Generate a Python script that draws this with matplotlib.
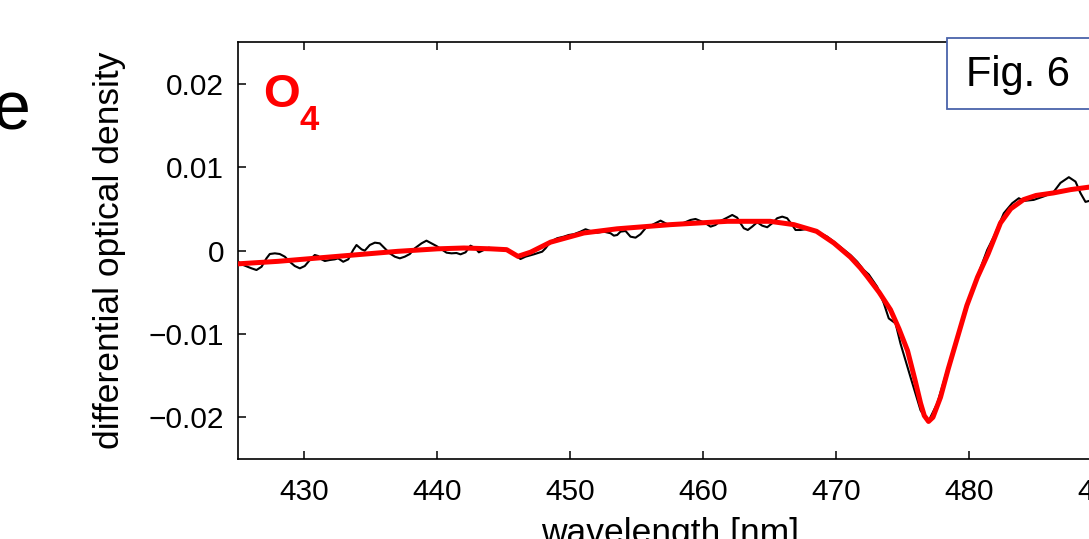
import matplotlib
matplotlib.use("Agg")
import matplotlib.pyplot as plt
from matplotlib.patches import Rectangle

# measured spectrum (black)
meas_wl = [425.02, 425.39, 426.02, 426.39, 426.77, 427.14, 427.39, 427.77, 428.14, 428.52,
           428.89, 429.27, 429.65, 430.02, 430.40, 430.77, 431.03, 431.28, 431.53, 431.90,
           432.28, 432.53, 432.91, 433.29, 433.66, 433.91, 434.29, 434.53, 434.91, 435.29,
           435.66, 436.04, 436.41, 436.79, 437.17, 437.54, 437.92, 438.29, 438.80, 439.17,
           439.55, 439.92, 440.30, 440.68, 441.05, 441.43, 441.73, 442.11, 442.48, 442.86,
           443.11, 443.48, 443.86, 444.23, 444.74, 445.11, 445.49, 445.99, 446.24, 446.62,
           447.24, 447.87, 448.12, 448.50, 449.00, 449.50, 449.87, 450.25, 450.75, 451.13,
           451.50, 452.01, 452.50, 453.01, 453.26, 453.51, 453.76, 454.14, 454.51, 454.89,
           455.26, 455.64, 456.02, 456.39, 456.77, 457.14, 457.52, 458.27, 459.02, 459.40,
           459.77, 460.15, 460.53, 460.90, 461.28, 461.78, 462.16, 462.53, 462.78, 463.03,
           463.33, 463.66, 464.04, 464.41, 464.79, 465.17, 465.54, 465.92, 466.29, 466.67,
           466.92, 467.29, 467.80, 468.29, 468.80, 469.30, 469.80, 470.43, 471.05, 471.56,
           472.05, 472.43, 473.06, 473.56, 473.93, 474.44, 474.81, 475.56, 476.32, 476.89,
           477.57, 478.32, 479.08, 479.83, 480.58, 481.33, 481.83, 482.58, 483.21, 483.71,
           484.08, 484.83, 485.59, 486.30, 486.84, 487.47, 487.97, 488.35, 488.72, 489.02,
           490.00]
meas_od = [-0.00135, -0.00174, -0.00214, -0.00234, -0.00195, -0.00094, -0.00042, -0.00034, -0.00042, -0.00074,
           -0.00135, -0.00186, -0.00214, -0.00186, -0.00114, -0.00054, -0.00066, -0.00106, -0.00126, -0.00114,
           -0.00106, -0.00094, -0.00135, -0.00106, 0.00006, 0.00066, 0.00014, -0.00002, 0.00066, 0.00094,
           0.00086, 0.00026, -0.00034, -0.00074, -0.00094, -0.00074, -0.00042, 0.00026, 0.00086, 0.00118,
           0.00086, 0.00054, 0.00014, -0.00026, -0.00034, -0.00030, -0.00046, -0.00022, 0.00058, 0.00026,
           -0.00022, 0.00006, 0.00034, 0.00018, 0.00006, 0.00018, -0.00014, -0.00074, -0.00102, -0.00074,
           -0.00046, -0.00014, 0.00026, 0.00106, 0.00147, 0.00166, 0.00186, 0.00195, 0.00226, 0.00255,
           0.00234, 0.00214, 0.00226, 0.00207, 0.00178, 0.00186, 0.00226, 0.00234, 0.00166, 0.00154,
           0.00195, 0.00267, 0.00298, 0.00327, 0.00358, 0.00327, 0.00300, 0.00315, 0.00366, 0.00378,
           0.00354, 0.00327, 0.00286, 0.00306, 0.00354, 0.00394, 0.00426, 0.00394, 0.00327, 0.00267,
           0.00246, 0.00286, 0.00339, 0.00298, 0.00279, 0.00327, 0.00387, 0.00406, 0.00387, 0.00306,
           0.00246, 0.00246, 0.00258, 0.00234, 0.00207, 0.00166, 0.00106, 0.00026, -0.00054, -0.00135,
           -0.00234, -0.00288, -0.00435, -0.00634, -0.00814, -0.00874, -0.01115, -0.01516, -0.01916, -0.02056,
           -0.01835, -0.01435, -0.01035, -0.00675, -0.00315, 0.00006, 0.00166, 0.00447, 0.00567, 0.00627,
           0.00595, 0.00607, 0.00649, 0.00697, 0.00811, 0.00879, 0.00826, 0.00687, 0.00583, 0.00595,
           0.00650]

# fitted O4 cross section (red)
fit_wl = [425.0, 428.0, 431.0, 434.0, 437.0, 440.0, 442.0, 444.0, 445.2, 446.05,
          447.0, 448.5, 451.0, 453.5, 457.5, 461.8, 465.0, 466.8, 468.5, 469.8,
          471.05, 471.8, 472.3, 473.2, 474.06, 474.7, 475.34, 475.9, 476.32, 476.6,
          476.92, 477.25, 477.82, 478.4, 479.1, 479.8, 480.6, 481.4, 482.33, 483.1,
          484.06, 485.0, 486.3, 487.6, 489.0, 490.0]
fit_od = [-0.0016, -0.0013, -0.0009, -0.0005, -0.0001, 0.0002, 0.0003, 0.0002, 0.0001, -0.0007,
          -0.0002, 0.0010, 0.0021, 0.0026, 0.0031, 0.0035, 0.0035, 0.0031, 0.0023, 0.0009,
          -0.0008, -0.0021, -0.0031, -0.0050, -0.0071, -0.0094, -0.0120, -0.0155, -0.0183, -0.0198,
          -0.0205, -0.0200, -0.0176, -0.0142, -0.0104, -0.0066, -0.0032, -0.0004, 0.0033, 0.0050,
          0.0061, 0.0066, 0.0069, 0.0073, 0.0076, 0.0078]

xticks = [430, 440, 450, 460, 470, 480, 490]
yticks = [-0.02, -0.01, 0, 0.01, 0.02]
ytick_labels = ["\u22120.02", "\u22120.01", "0", "0.01", "0.02"]

plt.rcParams['font.family'] = ['Liberation Sans', 'DejaVu Sans']

W, H = 1089, 539
fig = plt.figure(figsize=(W / 100, H / 100), dpi=100)
ax = fig.add_axes([238 / W, (H - 459) / H, (1102.5 - 238) / W, (459 - 42) / H])

ax.plot(meas_wl, meas_od, color='black', lw=1.5, zorder=2, solid_joinstyle='round')
ax.plot(fit_wl, fit_od, color='#ff0000', lw=3.6, zorder=3, solid_capstyle='round',
        solid_joinstyle='round')

ax.set_xlim(425, 490)
ax.set_ylim(-0.025, 0.025)
ax.set_xticks(xticks)
ax.set_yticks(yticks)
ax.set_yticklabels(ytick_labels)
ax.tick_params(direction='in', length=6, width=1.1, top=True, right=True,
               labelsize=21.5, colors='black')
ax.tick_params(axis='x', pad=14)
ax.tick_params(axis='y', pad=10)
for s in ax.spines.values():
    s.set_linewidth(1.2)

ax.set_ylabel('differential optical density', fontsize=25.5)
ax.yaxis.set_label_coords((126 - 238) / 864.5, 0.5)
ax.set_xlabel('wavelength [nm]', fontsize=25.5)
ax.xaxis.set_label_coords(0.5, (459 - 517) / 417)

# panel letter
fig.text(30 / W, 1 - 129 / H, 'e', fontsize=49, ha='right', va='baseline')
# O4 label
fig.text(263 / W, 1 - 107 / H, 'O', fontsize=34, fontweight='bold', color='#ff0000',
         ha='left', va='baseline')
fig.text(299 / W, 1 - 130 / H, '4', fontsize=25, fontweight='bold', color='#ff0000',
         ha='left', va='baseline')

# Fig. 6 box
rect = Rectangle((946.5 / W, 1 - 109.5 / H), (1100 - 946.5) / W, (109.5 - 38.5) / H,
                 transform=fig.transFigure, facecolor='white', edgecolor='#4a63aa',
                 lw=1.3, zorder=10, clip_on=False)
fig.add_artist(rect)
fig.text(966 / W, 1 - 75 / H, 'Fig. 6', fontsize=30, ha='left', va='center', zorder=11)

fig.savefig('out.png', dpi=100)
